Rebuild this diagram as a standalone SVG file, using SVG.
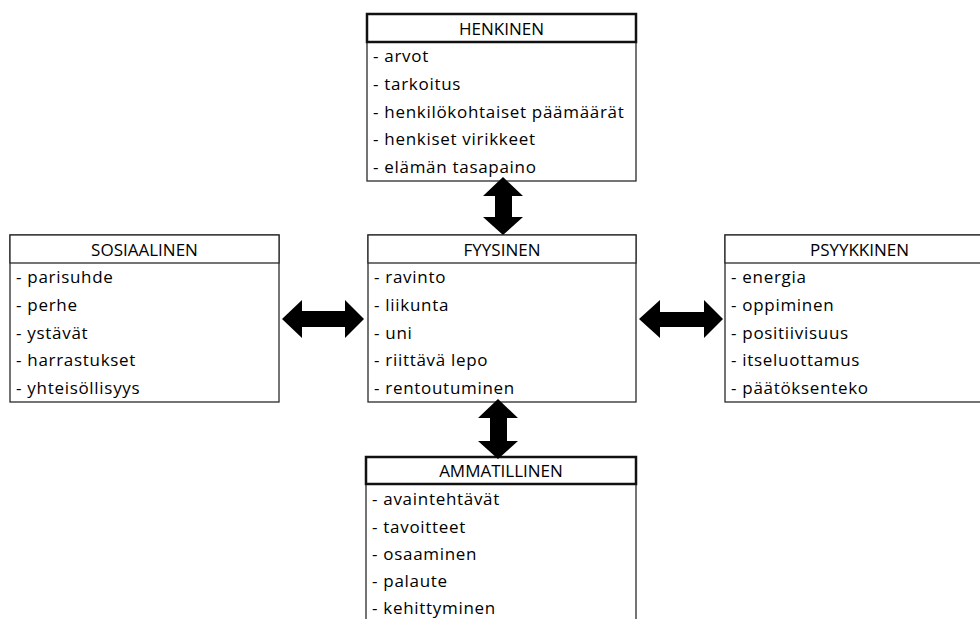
<svg xmlns="http://www.w3.org/2000/svg" width="980" height="619" viewBox="0 0 980 619">
<style>
  .box{fill:#fff;stroke:#2a2a2a;stroke-width:1.3}
  .hdr{fill:#fff;stroke:#2a2a2a;stroke-width:1.3}
  .hdr.bold{stroke:#111;stroke-width:2.5}
  .t{font-family:"Open Sans","Liberation Sans",sans-serif;font-size:17px;fill:#000}
  .h{text-anchor:middle}
  .b{letter-spacing:0.7px}
  .arrow{fill:#000}
</style>
<rect width="980" height="619" fill="#fff"/>
<g id="henkinen">
  <rect class="box" x="367" y="14" width="269" height="167"/>
  <rect class="hdr bold" x="367" y="14" width="269" height="28"/>
  <text class="t h" x="501.5" y="35">HENKINEN</text>
  <text class="t b" x="373" y="62">- arvot</text>
  <text class="t b" x="373" y="90">- tarkoitus</text>
  <text class="t b" x="373" y="118">- henkilökohtaiset päämäärät</text>
  <text class="t b" x="373" y="145">- henkiset virikkeet</text>
  <text class="t b" x="373" y="173">- elämän tasapaino</text>
</g>
<g id="sosiaalinen">
  <rect class="box" x="10" y="235" width="269" height="167"/>
  <rect class="hdr" x="10" y="235" width="269" height="28"/>
  <text class="t h" x="144.5" y="256">SOSIAALINEN</text>
  <text class="t b" x="16" y="283">- parisuhde</text>
  <text class="t b" x="16" y="311">- perhe</text>
  <text class="t b" x="16" y="339">- ystävät</text>
  <text class="t b" x="16" y="366">- harrastukset</text>
  <text class="t b" x="16" y="394">- yhteisöllisyys</text>
</g>
<g id="fyysinen">
  <rect class="box" x="368" y="235" width="268" height="167"/>
  <rect class="hdr" x="368" y="235" width="268" height="28"/>
  <text class="t h" x="502" y="256">FYYSINEN</text>
  <text class="t b" x="374" y="283">- ravinto</text>
  <text class="t b" x="374" y="311">- liikunta</text>
  <text class="t b" x="374" y="339">- uni</text>
  <text class="t b" x="374" y="366">- riittävä lepo</text>
  <text class="t b" x="374" y="394">- rentoutuminen</text>
</g>
<g id="psyykkinen">
  <rect class="box" x="725" y="235" width="275" height="167"/>
  <rect class="hdr" x="725" y="235" width="275" height="28"/>
  <text class="t h" x="859.5" y="256">PSYYKKINEN</text>
  <text class="t b" x="731" y="283">- energia</text>
  <text class="t b" x="731" y="311">- oppiminen</text>
  <text class="t b" x="731" y="339">- positiivisuus</text>
  <text class="t b" x="731" y="366">- itseluottamus</text>
  <text class="t b" x="731" y="394">- päätöksenteko</text>
</g>
<g id="ammatillinen">
  <rect class="box" x="366" y="457" width="270" height="180"/>
  <rect class="hdr bold" x="366" y="457" width="270" height="27"/>
  <text class="t h" x="501" y="477">AMMATILLINEN</text>
  <text class="t b" x="372" y="505">- avaintehtävät</text>
  <text class="t b" x="372" y="533">- tavoitteet</text>
  <text class="t b" x="372" y="560">- osaaminen</text>
  <text class="t b" x="372" y="587">- palaute</text>
  <text class="t b" x="372" y="614">- kehittyminen</text>
</g>
<g id="connectors">
  <polygon class="arrow" points="503,177 523,196 512,196 512,217 523,217 503,235 483,217 495,217 495,196 483,196"/>
  <polygon class="arrow" points="498,399 518,418 507,418 507,441 518,441 498,459 478,441 490,441 490,418 478,418"/>
  <polygon class="arrow" points="282,319 302,300 302,311 345,311 345,300 364,319 345,338 345,327 302,327 302,338"/>
  <polygon class="arrow" points="639,319 660,300 660,312 704,312 704,300 723,319 704,338 704,327 660,327 660,338"/>
</g>
</svg>
